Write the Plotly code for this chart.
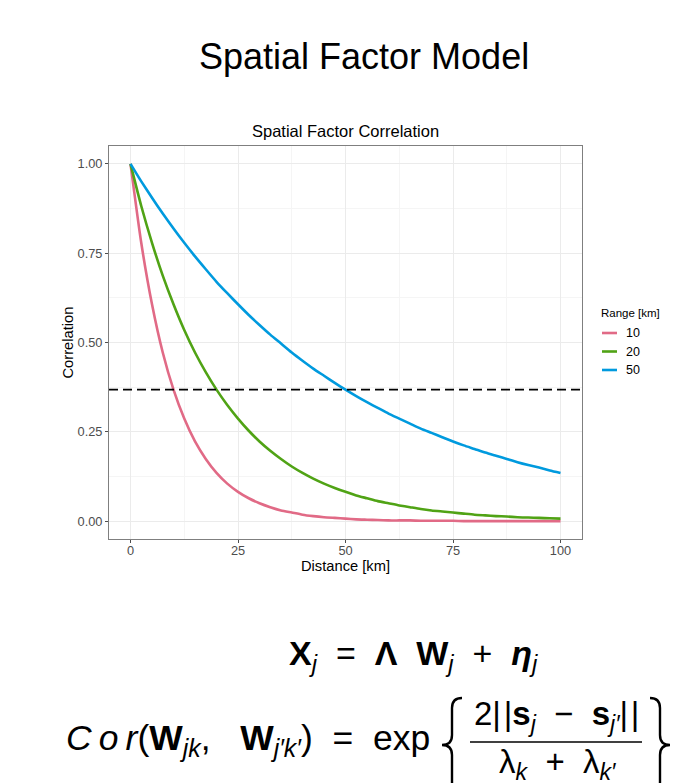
import plotly.graph_objects as go

# ---------------- data ----------------
distance_km = [0, 2.5, 5, 7.5, 10, 12.5, 15, 17.5, 20, 22.5, 25, 27.5, 30, 32.5, 35,
               37.5, 40, 42.5, 45, 47.5, 50, 52.5, 55, 57.5, 60, 62.5, 65, 67.5, 70,
               72.5, 75, 77.5, 80, 82.5, 85, 87.5, 90, 92.5, 95, 97.5, 100]

corr_range_10 = [1.000, 0.779, 0.607, 0.472, 0.368, 0.287, 0.223, 0.174, 0.135, 0.105,
                 0.082, 0.064, 0.050, 0.039, 0.030, 0.024, 0.018, 0.014, 0.011, 0.009,
                 0.007, 0.005, 0.004, 0.003, 0.002, 0.002, 0.002, 0.001, 0.001, 0.001,
                 0.001, 0.000, 0.000, 0.000, 0.000, 0.000, 0.000, 0.000, 0.000, 0.000, 0.000]

corr_range_20 = [1.000, 0.882, 0.779, 0.687, 0.607, 0.535, 0.472, 0.417, 0.368, 0.325,
                 0.287, 0.253, 0.223, 0.197, 0.174, 0.153, 0.135, 0.119, 0.105, 0.093,
                 0.082, 0.072, 0.064, 0.056, 0.050, 0.044, 0.039, 0.034, 0.030, 0.027,
                 0.024, 0.021, 0.018, 0.016, 0.014, 0.013, 0.011, 0.010, 0.009, 0.008, 0.007]

corr_range_50 = [1.000, 0.951, 0.905, 0.861, 0.819, 0.779, 0.741, 0.705, 0.670, 0.638,
                 0.607, 0.577, 0.549, 0.522, 0.497, 0.472, 0.449, 0.427, 0.407, 0.387,
                 0.368, 0.350, 0.333, 0.317, 0.301, 0.287, 0.273, 0.259, 0.247, 0.235,
                 0.223, 0.212, 0.202, 0.192, 0.183, 0.174, 0.165, 0.157, 0.150, 0.142, 0.135]

range_labels = ["10", "20", "50"]
series_values = [corr_range_10, corr_range_20, corr_range_50]
series_colors = ["#E16A86", "#50A315", "#009ADE"]
threshold = 0.368  # 1/e reference line

x_ticks = [0, 25, 50, 75, 100]
y_ticks = [0.00, 0.25, 0.50, 0.75, 1.00]
y_ticklabels = ["0.00", "0.25", "0.50", "0.75", "1.00"]

# ---------------- layout helpers (screen pixel -> paper) ----------------
OFF = 8                      # page body margin
W, H = 672, 775              # figure size so the page fits the 680x783 window
ML, MR, MT, MB = 101, 98, 138, 244
PW, PH = W - ML - MR, H - MT - MB


def px(x):
    return (x - OFF - ML) / PW


def py(y):
    return (H - MB - (y - OFF)) / PH


FONT = "Liberation Sans, Arial, Helvetica, sans-serif"
MATH = "Liberation Sans, DejaVu Sans, sans-serif"

fig = go.Figure()
for lab, vals, col in zip(range_labels, series_values, series_colors):
    fig.add_trace(go.Scatter(
        x=distance_km, y=vals, mode="lines", name=lab,
        line=dict(color=col, width=2.6, shape="spline", smoothing=0.6),
        showlegend=False, hoverinfo="x+y+name"))

annotations = []
shapes = []

# dashed 1/e line across the panel
shapes.append(dict(type="line", xref="paper", x0=0, x1=1, yref="y", y0=threshold, y1=threshold,
                   line=dict(color="black", width=1.8, dash="9px,5px"), layer="above"))


def ann(text, x, y, size, xanchor="center", family=FONT, color="black", angle=0):
    annotations.append(dict(text=text, x=px(x), y=py(y), xref="paper", yref="paper",
                            showarrow=False, xanchor=xanchor, yanchor="middle",
                            textangle=angle, font=dict(family=family, size=size, color=color)))


# titles
ann("Spatial Factor Model", 364, 56, 36)
ann("Spatial Factor Correlation", 345.5, 131, 16.5)
ann("Distance [km]", 345.5, 566, 14.7)
ann("Correlation", 67, 342.5, 14.7, angle=-90)

# manual legend
ann("Range [km]", 599, 313, 11.5, xanchor="left")
leg_y = [333, 351.5, 370]
for lab, col, yy in zip(range_labels, series_colors, leg_y):
    shapes.append(dict(type="line", xref="paper", yref="paper", x0=px(602), x1=px(617),
                       y0=py(yy), y1=py(yy), line=dict(color=col, width=2.6)))
    ann(lab, 624, yy, 12.5, xanchor="left")

# equations
NB = "&nbsp;"
ann(f"<b>X</b><sub><i>j</i></sub> {NB}={NB} <b>Λ</b>{NB} <b>W</b><sub><i>j</i></sub> {NB}+{NB} "
    f"<b><i>η</i></b><sub><i>j</i></sub>", 413, 655, 34, family=MATH)
ann(f"<i>C\u2009o\u2009r</i>(<b>W</b><sub><i>jk</i></sub>,{NB}{NB} <b>W</b><sub><i>j′k′</i></sub>) {NB}={NB} exp",
    432, 740, 35.5, xanchor="right", family=MATH)
ann(f"2|\u200a|<b>s</b><sub><i>j</i></sub> {NB}−{NB} <b>s</b><sub><i>j′</i></sub>|\u200a|",
    556, 716, 33, family=MATH)
ann(f"λ<sub><i>k</i></sub> {NB}+{NB} λ<sub><i>k′</i></sub>", 557, 764, 33, family=MATH)

# fraction bar
shapes.append(dict(type="line", xref="paper", yref="paper", x0=px(470), x1=px(642),
                   y0=py(742), y1=py(742), line=dict(color="black", width=1.5)))


def brace_path(xt, xv, xc, top, mid, bot):
    pts = [
        f"M{px(xt):.5f},{py(top):.5f}",
        f"Q{px(xv):.5f},{py(top):.5f} {px(xv):.5f},{py(top + 10):.5f}",
        f"L{px(xv):.5f},{py(mid - 10):.5f}",
        f"Q{px(xv):.5f},{py(mid):.5f} {px(xc):.5f},{py(mid):.5f}",
        f"Q{px(xv):.5f},{py(mid):.5f} {px(xv):.5f},{py(mid + 10):.5f}",
        f"L{px(xv):.5f},{py(bot - 10):.5f}",
        f"Q{px(xv):.5f},{py(bot):.5f} {px(xt):.5f},{py(bot):.5f}",
    ]
    return " ".join(pts)


shapes.append(dict(type="path", xref="paper", yref="paper",
                   path=brace_path(462, 452, 442, 698, 745, 792),
                   line=dict(color="black", width=2.4)))
shapes.append(dict(type="path", xref="paper", yref="paper",
                   path=brace_path(650, 660, 670, 698, 745, 792),
                   line=dict(color="black", width=2.4)))

axis_common = dict(
    showline=True, mirror=True, linecolor="#7f7f7f", linewidth=1,
    showgrid=True, gridcolor="#ebebeb", gridwidth=1,
    ticks="outside", ticklen=3, tickcolor="#4d4d4d", tickwidth=1,
    tickfont=dict(family=FONT, size=12.8, color="#4d4d4d"),
    zeroline=False,
)

fig.update_layout(
    width=W, height=H,
    margin=dict(l=ML, r=MR, t=MT, b=MB, autoexpand=False),
    paper_bgcolor="white", plot_bgcolor="white",
    showlegend=False,
    xaxis=dict(range=[-5, 105], tickvals=x_ticks, ticktext=[str(v) for v in x_ticks],
               ticklabelstandoff=-3,
               minor=dict(tickvals=[12.5, 37.5, 62.5, 87.5], showgrid=True,
                          gridcolor="#f5f5f5", gridwidth=1, ticks=""),
               **axis_common),
    yaxis=dict(range=[-0.05, 1.05], tickvals=y_ticks, ticktext=y_ticklabels,
               minor=dict(tickvals=[0.125, 0.375, 0.625, 0.875], showgrid=True,
                          gridcolor="#f5f5f5", gridwidth=1, ticks=""),
               **axis_common),
    annotations=annotations,
    shapes=shapes,
)

fig.write_html("out.html")
